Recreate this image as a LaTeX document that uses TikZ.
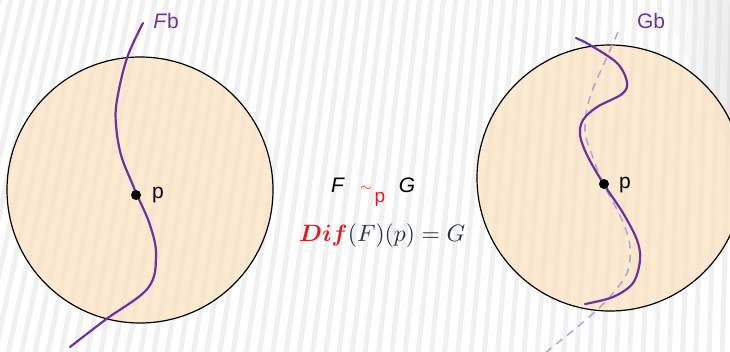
\documentclass[tikz,border=0pt]{standalone}
\usepackage{fontspec}
\setmainfont{Liberation Sans}
\usepackage{amsmath,bm}
\definecolor{purp}{RGB}{112,48,160}
\definecolor{beige}{RGB}{250,228,196}
\definecolor{dashc}{RGB}{180,170,205}
\definecolor{mathc}{RGB}{40,48,68}
\definecolor{redc}{RGB}{225,30,30}
\tikzset{
  disc/.style={circle, draw=black, line width=1.2pt, fill=beige, fill opacity=0.78, inner sep=0pt},
  curve/.style={draw=purp, line width=2.2pt, line cap=round},
  ghost/.style={draw=dashc, line width=1.6pt, dash pattern=on 8pt off 6pt},
  pt/.style={circle, fill=black, inner sep=0pt, minimum size=10pt},
  lab/.style={font=\fontsize{21}{23}\selectfont, inner sep=0pt, anchor=base},
  stripe/.style={draw=black!6, line width=5pt}
}
\begin{document}
\begin{tikzpicture}[x=1pt,y=-1pt]
\useasboundingbox (0,0) rectangle (730,351);
\fill[white] (0,0) rectangle (730,351);
\begin{scope}
\clip (0,0) rectangle (730,351);
\foreach \x in {-96,-84,...,840}{
  \pgfmathsetmacro{\off}{85-0.1027*\x}
  \draw[stripe] (\x,-5) -- (\x-\off,356);
}
\shade[left color=white, right color=black!20, opacity=0.35] (660,0) -- (730,0) -- (730,150) -- cycle;
\end{scope}
% discs
\node[disc, minimum size=266pt] (L) at (140,190) {};
\node[disc, minimum size=266pt] (R) at (610,178) {};
% left curve
\draw[curve] plot[smooth, tension=0.6] coordinates {(143,23) (127,58) (117,100) (116,125) (121,155) (132,183) (137,195) (150,225) (156,255) (148,288) (105,320) (70,347)};
% right dashed
\draw[ghost] plot[smooth, tension=0.6] coordinates {(618,32) (607,57) (590,97) (585,130) (592,155) (603,183) (622,220) (630,247) (627,273) (613,293) (597,310) (570,333) (545,353)};
% right curve
\draw[curve] plot[smooth, tension=0.55] coordinates {(576,38) (590,45) (617,63) (627,82) (622,94) (597,107) (583,120) (580,135) (587,155) (603,183) (623,213) (637,240) (640,260) (633,283) (613,297) (585,304)};
% points
\node[pt] (pL) at (136,195) {};
\node[pt] (pR) at (604,184) {};
\node[lab] (pLl) at (158,198) {p};
\node[lab] (pRl) at (625,188) {p};
% curve labels
\node[lab, text=purp] (Fb) at (166,28) {\textit{F}b};
\node[lab, text=purp] (Gb) at (651,28) {Gb};
% relation
\node[lab] (F) at (338,192) {\textit{F}};
\node[lab] (G) at (407,192) {\textit{G}};
\node[inner sep=0pt, anchor=base, text=redc, font=\fontsize{14}{16}\selectfont] (tl) at (366,192) {\raisebox{1pt}{$\sim$}};
\node[inner sep=0pt, anchor=base, text=redc, font=\fontsize{19}{21}\selectfont] (tp) at (380,202) {p};
\node[inner sep=0pt, anchor=base west, text=mathc] (dif) at (299,241) {\resizebox{166pt}{!}{$\color{redc}\bm{Dif}\color{mathc}(F)(p)=G$}};
\end{tikzpicture}
\end{document}
